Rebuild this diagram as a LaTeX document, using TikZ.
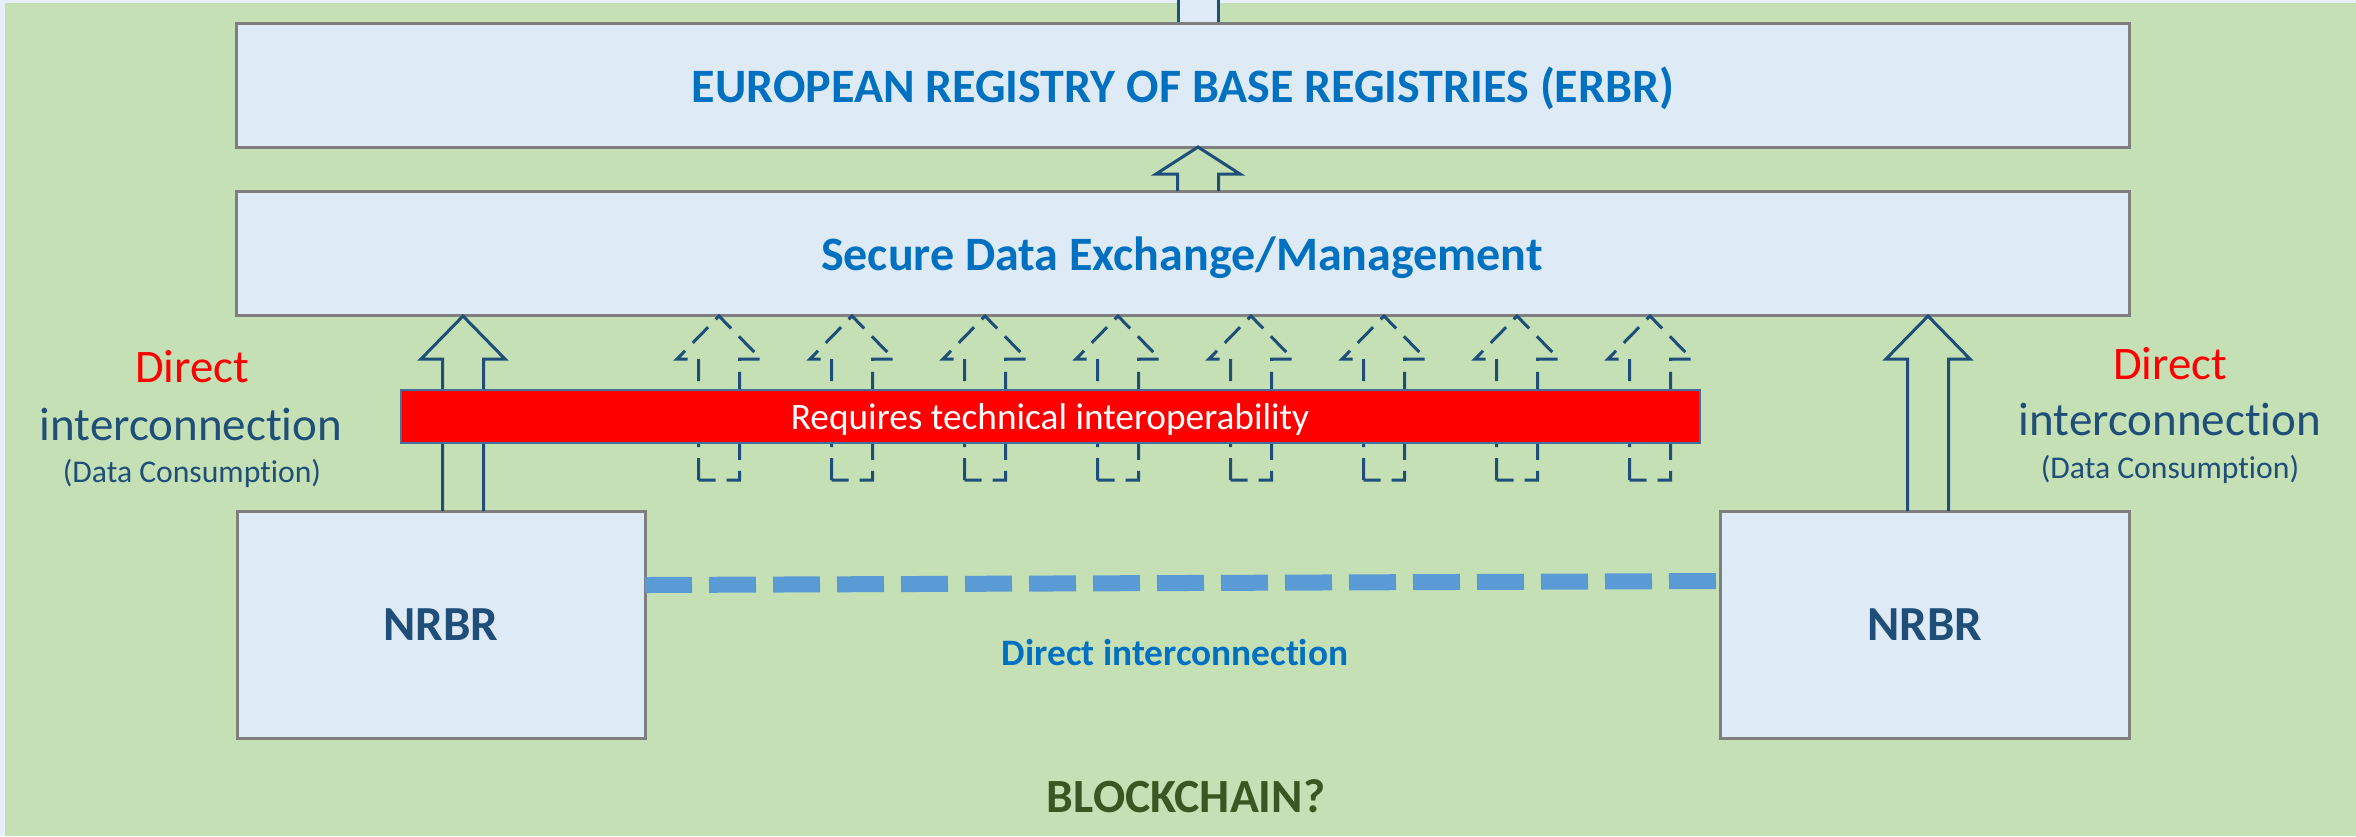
\documentclass[tikz,border=0pt]{standalone}
\usepackage{fontspec}
\setmainfont{Carlito}[Ligatures=NoCommon]
\definecolor{bggreen}{HTML}{C5E0B4}
\definecolor{boxblue}{HTML}{DEEBF7}
\definecolor{edgeblue}{HTML}{E6EFF9}
\definecolor{boxgrey}{HTML}{7F7F7F}
\definecolor{arrowblue}{HTML}{1F4E79}
\definecolor{titleblue}{HTML}{0070C0}
\definecolor{dashblue}{HTML}{5B9BD5}
\definecolor{barborder}{HTML}{41719C}
\definecolor{darkgreen}{HTML}{385723}
\newcommand\blockarr[5]{% style, x, tipY, headbaseY, bottomY (open at bottom)
  \draw[#1] (#2-20.5,#5) -- (#2-20.5,#4) -- (#2-42,#4) -- (#2,#3) -- (#2+42,#4) -- (#2+20.5,#4) -- (#2+20.5,#5);}
\newcommand\blockarrc[5]{% closed version
  \draw[#1] (#2-20.5,#5) -- (#2-20.5,#4) -- (#2-42,#4) -- (#2,#3) -- (#2+42,#4) -- (#2+20.5,#4) -- (#2+20.5,#5) -- cycle;}
\begin{document}
\begin{tikzpicture}[x=0.3pt,y=-0.3pt,
  box/.style={draw=boxgrey, fill=boxblue, line width=0.9pt, inner sep=0pt, outer sep=0pt},
  arr/.style={draw=arrowblue, line width=0.9pt, line join=miter},
  darr/.style={arr, dash pattern=on 6.6pt off 3.3pt},
  bigtitle/.style={font=\bfseries\fontsize{14.4}{17}\selectfont, text=titleblue, anchor=base, inner sep=0pt},
  sidered/.style={font=\fontsize{14}{16}\selectfont, text=red, anchor=base, inner sep=0pt},
  sideblue/.style={font=\fontsize{14.1}{17}\selectfont, text=arrowblue, anchor=base, inner sep=0pt},
  sidesmall/.style={font=\fontsize{9.5}{11}\selectfont, text=arrowblue, anchor=base, inner sep=0pt},
  nrbrtext/.style={font=\bfseries\fontsize{14.7}{17}\selectfont, text=arrowblue, anchor=base, inner sep=0pt}]
\useasboundingbox (0,0) rectangle (2356,836);
\fill[edgeblue] (0,0) rectangle (2356,836);
\fill[bggreen] (5,3) rectangle (2356,836);
% stub of arrow leaving the top
\fill[boxblue] (1178,0) rectangle (1218,23);
\draw[arr] (1178,0) -- (1178,23);
\draw[arr] (1218,0) -- (1218,23);
% boxes
\node[box, minimum width=1893*0.3pt, minimum height=124*0.3pt] (erbr) at (1182.5,85) {};
\node[box, minimum width=1893*0.3pt, minimum height=124*0.3pt] (sde) at (1182.5,253) {};
\node[box, minimum width=408*0.3pt, minimum height=227*0.3pt] (nrbrL) at (441,624.5) {};
\node[box, minimum width=409*0.3pt, minimum height=227*0.3pt] (nrbrR) at (1924.5,624.5) {};
% arrows
\blockarr{arr}{1198}{147}{174}{191}
\blockarr{arr}{463}{316}{359}{511}
\blockarr{arr}{1928}{316}{359}{511}
\foreach \k in {0,...,7}{
  \pgfmathsetmacro\xx{719+133*\k}
  \blockarrc{darr}{\xx}{316}{359}{480}
}
% red bar
\node[draw=barborder, fill=red, line width=0.7pt, inner sep=0pt, outer sep=0pt,
      minimum width=1299*0.3pt, minimum height=53*0.3pt] (bar) at (1050.5,416.5) {};
\node[font=\fontsize{11.2}{13}\selectfont, text=white, anchor=base, inner sep=0pt] (bart) at (1050,429) {Requires technical interoperability};
% dashed link between NRBRs
\draw[dashblue, line width=4.8pt, dash pattern=on 14.1pt off 5.1pt] (nrbrL.east |- 0,585) -- (nrbrR.west |- 0,581);
% texts
\node[bigtitle] (erbrt) at (1183,102) {EUROPEAN REGISTRY OF BASE REGISTRIES (ERBR)};
\node[bigtitle] (sdet) at (1182,270) {Secure Data Exchange/Management};
\node[nrbrtext] (nrbrLt) at (441,640) {NRBR};
\node[nrbrtext] (nrbrRt) at (1925,640) {NRBR};
\node[font=\bfseries\fontsize{11.2}{13}\selectfont, text=titleblue, anchor=base, inner sep=0pt] (dit) at (1175,665) {Direct interconnection};
\node[font=\bfseries\fontsize{14.3}{17}\selectfont, text=darkgreen, anchor=base, inner sep=0pt] (bc) at (1186,812) {BLOCKCHAIN?};
% side labels
\node[sidered] (ld1) at (192,382) {Direct};
\node[sideblue] (ld2) at (191,440) {interconnection};
\node[sidesmall] (ld3) at (192,482) {(Data Consumption)};
\node[sidered] (rd1) at (2170,379) {Direct};
\node[sideblue] (rd2) at (2170,435) {interconnection};
\node[sidesmall] (rd3) at (2170,478) {(Data Consumption)};
\end{tikzpicture}
\end{document}
